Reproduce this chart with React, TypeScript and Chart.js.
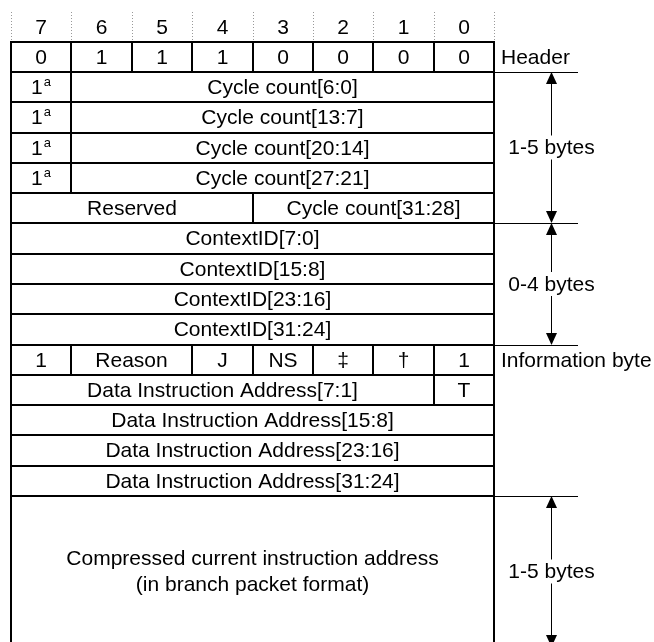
import React, { useEffect, useRef } from "react";
import { Chart, registerables } from "chart.js";

Chart.register(...registerables);

// ---- data ----
const bitLabels = ["7", "6", "5", "4", "3", "2", "1", "0"];
const headerBits = ["0", "1", "1", "1", "0", "0", "0", "0"];
const cycleCountRows = ["Cycle count[6:0]", "Cycle count[13:7]", "Cycle count[20:14]", "Cycle count[27:21]"];
const cycleLastRow = ["Reserved", "Cycle count[31:28]"];
const cycleLastWidths = [4, 4];
const contextIdRows = ["ContextID[7:0]", "ContextID[15:8]", "ContextID[23:16]", "ContextID[31:24]"];
const infoByteFields = ["1", "Reason", "J", "NS", "‡", "†", "1"];
const infoByteWidths = [1, 2, 1, 1, 1, 1, 1];
const dataAddrFirstRow = ["Data Instruction Address[7:1]", "T"];
const dataAddrFirstWidths = [7, 1];
const dataAddrRows = ["Data Instruction Address[15:8]", "Data Instruction Address[23:16]", "Data Instruction Address[31:24]"];
const compressedLines = ["Compressed current instruction address", "(in branch packet format)"];
const compressedRowSpan = 5;

const sideLabels = ["Header", "1-5 bytes", "0-4 bytes", "Information byte", "1-5 bytes"];
const sideStartRow = [0, 1, 6, 10, 15];
const sideEndRow = [1, 6, 10, 11, 20];
const sideHasArrow = [false, true, true, false, true];

type Cell = { row: number; span: number; start: number; end: number; lines: string[]; sup?: string };

function buildCells(): Cell[] {
  const cells: Cell[] = [];
  let row = 0;
  headerBits.forEach((b, i) => cells.push({ row, span: 1, start: i, end: i + 1, lines: [b] }));
  row++;
  cycleCountRows.forEach((t) => {
    cells.push({ row, span: 1, start: 0, end: 1, lines: ["1"], sup: "a" });
    cells.push({ row, span: 1, start: 1, end: 8, lines: [t] });
    row++;
  });
  let s = 0;
  cycleLastRow.forEach((t, i) => {
    cells.push({ row, span: 1, start: s, end: s + cycleLastWidths[i], lines: [t] });
    s += cycleLastWidths[i];
  });
  row++;
  contextIdRows.forEach((t) => {
    cells.push({ row, span: 1, start: 0, end: 8, lines: [t] });
    row++;
  });
  s = 0;
  infoByteFields.forEach((t, i) => {
    cells.push({ row, span: 1, start: s, end: s + infoByteWidths[i], lines: [t] });
    s += infoByteWidths[i];
  });
  row++;
  s = 0;
  dataAddrFirstRow.forEach((t, i) => {
    cells.push({ row, span: 1, start: s, end: s + dataAddrFirstWidths[i], lines: [t] });
    s += dataAddrFirstWidths[i];
  });
  row++;
  dataAddrRows.forEach((t) => {
    cells.push({ row, span: 1, start: 0, end: 8, lines: [t] });
    row++;
  });
  cells.push({ row, span: compressedRowSpan, start: 0, end: 8, lines: compressedLines });
  return cells;
}

const FONT = '21px "Liberation Sans", Arial, sans-serif';
const SUP_FONT = '13px "Liberation Sans", Arial, sans-serif';

const diagramPlugin = {
  id: "packetDiagram",
  afterDatasetsDraw(chart: any) {
    const ctx: CanvasRenderingContext2D = chart.ctx;
    const xs = chart.scales.x;
    const ys = chart.scales.y;
    const px = (v: number) => Math.round(xs.getPixelForValue(v));
    const py = (v: number) => Math.round(ys.getPixelForValue(v));
    const cells: Cell[] = buildCells();
    ctx.save();

    // bit numbers + dotted guides
    ctx.strokeStyle = "#999";
    ctx.lineWidth = 1;
    ctx.setLineDash([1, 2]);
    for (let i = 0; i <= 8; i++) {
      ctx.beginPath();
      ctx.moveTo(px(i) + 0.5, py(-1));
      ctx.lineTo(px(i) + 0.5, py(0));
      ctx.stroke();
    }
    ctx.setLineDash([]);
    ctx.fillStyle = "#000";
    ctx.font = FONT;
    ctx.textAlign = "center";
    ctx.textBaseline = "middle";
    bitLabels.forEach((b, i) => ctx.fillText(b, (px(i) + px(i + 1)) / 2, py(-0.45)));

    // cells
    ctx.strokeStyle = "#000";
    ctx.lineWidth = 2;
    cells.forEach((c) => {
      const x0 = px(c.start), x1 = px(c.end), y0 = py(c.row), y1 = py(c.row + c.span);
      ctx.strokeRect(x0, y0, x1 - x0, y1 - y0);
    });
    cells.forEach((c) => {
      const cx = (px(c.start) + px(c.end)) / 2;
      const cy = (py(c.row) + py(c.row + c.span)) / 2 + 1;
      if (c.sup) {
        ctx.font = FONT;
        const w1 = ctx.measureText(c.lines[0]).width;
        ctx.font = SUP_FONT;
        const w2 = ctx.measureText(c.sup).width;
        const left = cx - (w1 + w2 + 1) / 2;
        ctx.textAlign = "left";
        ctx.font = FONT;
        ctx.fillText(c.lines[0], left, cy);
        ctx.font = SUP_FONT;
        ctx.fillText(c.sup, left + w1 + 1, cy - 6);
        ctx.textAlign = "center";
      } else {
        ctx.font = FONT;
        const lh = 26;
        const n = c.lines.length;
        c.lines.forEach((t, i) => ctx.fillText(t, cx, cy + (i - (n - 1) / 2) * lh));
      }
    });

    // side annotations
    ctx.lineWidth = 1;
    const lineX0 = px(8);
    const lineX1 = px(9.39);
    const arrowX = px(8.944) + 0.5;
    const drawH = (r: number) => {
      const y = py(r) + 0.5;
      ctx.beginPath();
      ctx.moveTo(lineX0, y);
      ctx.lineTo(lineX1, y);
      ctx.stroke();
    };
    sideLabels.forEach((label, i) => {
      const r0 = sideStartRow[i], r1 = sideEndRow[i];
      ctx.font = FONT;
      if (!sideHasArrow[i]) {
        ctx.textAlign = "left";
        ctx.fillText(label, px(8.116), (py(r0) + py(r1)) / 2 + 1);
        return;
      }
      drawH(r0);
      drawH(r1);
      const yTop = py(r0), yBot = py(r1);
      const ah = 12, aw = 5.5;
      ctx.beginPath();
      ctx.moveTo(arrowX, yTop + ah);
      ctx.lineTo(arrowX, yBot - ah);
      ctx.stroke();
      ctx.beginPath();
      ctx.moveTo(arrowX, yTop);
      ctx.lineTo(arrowX - aw, yTop + ah);
      ctx.lineTo(arrowX + aw, yTop + ah);
      ctx.closePath();
      ctx.fill();
      ctx.beginPath();
      ctx.moveTo(arrowX, yBot);
      ctx.lineTo(arrowX - aw, yBot - ah);
      ctx.lineTo(arrowX + aw, yBot - ah);
      ctx.closePath();
      ctx.fill();
      const ty = (yTop + yBot) / 2;
      const tw = ctx.measureText(label).width;
      ctx.fillStyle = "#fff";
      ctx.fillRect(arrowX - tw / 2 - 2, ty - 12, tw + 4, 24);
      ctx.fillStyle = "#000";
      ctx.textAlign = "center";
      ctx.fillText(label, arrowX, ty + 1);
    });
    ctx.restore();
  },
};

const COL_PX = 60.375;
const ROW_PX = 30.25;
const LEFT_PX = 11;
const TOP_PX = 42;
const W = 654;
const H = 642;

export default function App() {
  const ref = useRef<HTMLCanvasElement | null>(null);
  useEffect(() => {
    if (!ref.current) return;
    const cells = buildCells();
    const chart = new Chart(ref.current, {
      type: "scatter",
      data: {
        datasets: [
          {
            data: cells.map((c) => ({ x: (c.start + c.end) / 2, y: c.row + c.span / 2 })),
            pointRadius: 0,
            showLine: false,
          },
        ],
      },
      options: {
        responsive: false,
        animation: false,
        events: [],
        layout: { padding: 0 },
        plugins: { legend: { display: false }, tooltip: { enabled: false } },
        scales: {
          x: { type: "linear", display: false, min: -LEFT_PX / COL_PX, max: (W - LEFT_PX) / COL_PX },
          y: { type: "linear", display: false, reverse: true, min: -TOP_PX / ROW_PX, max: (H - TOP_PX) / ROW_PX },
        },
      },
      plugins: [diagramPlugin],
    });
    return () => chart.destroy();
  }, []);
  return (
    <div style={{ position: "fixed", left: 0, top: 0, width: W, height: H, background: "#fff" }}>
      <canvas ref={ref} width={W} height={H} style={{ display: "block", width: W, height: H }} />
    </div>
  );
}
